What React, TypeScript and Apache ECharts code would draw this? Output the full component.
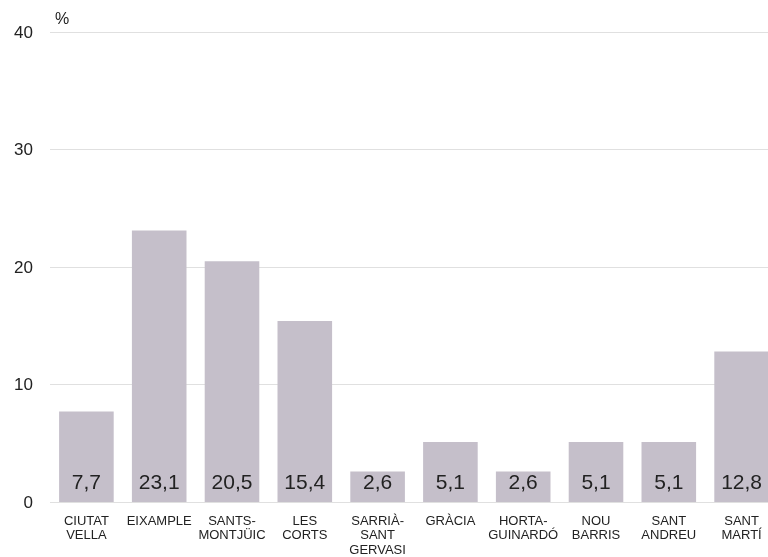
import React, { useEffect, useRef } from "react";
import * as echarts from "echarts";

const categories = [
  "CIUTAT\nVELLA",
  "EIXAMPLE",
  "SANTS-\nMONTJÜIC",
  "LES\nCORTS",
  "SARRIÀ-\nSANT\nGERVASI",
  "GRÀCIA",
  "HORTA-\nGUINARDÓ",
  "NOU\nBARRIS",
  "SANT\nANDREU",
  "SANT\nMARTÍ",
];
const values = [7.7, 23.1, 20.5, 15.4, 2.6, 5.1, 2.6, 5.1, 5.1, 12.8];
const yTicks = { min: 0, max: 40, interval: 10 };

export default function App() {
  const ref = useRef<HTMLDivElement>(null);
  useEffect(() => {
    if (!ref.current) return;
    const chart = echarts.init(ref.current, undefined, { renderer: "svg" });
    const font = "Liberation Sans";
    chart.setOption({
      animation: false,
      textStyle: { fontFamily: font },
      grid: { left: 50, top: 32, width: 728, bottom: 55, outerBoundsMode: "none", containLabel: false },
      graphic: [
        {
          type: "text",
          left: 55,
          top: 10,
          style: { text: "%", fontSize: 16, fill: "#222", fontFamily: font },
        },
      ],
      xAxis: {
        type: "category",
        data: categories,
        axisLine: { show: false },
        axisTick: { show: false },
        axisLabel: {
          interval: 0,
          fontSize: 13,
          lineHeight: 14.5,
          color: "#222",
          margin: 11,
          fontFamily: font,
        },
      },
      yAxis: {
        type: "value",
        min: yTicks.min,
        max: yTicks.max,
        interval: yTicks.interval,
        axisLabel: { fontSize: 17, color: "#222", margin: 17, fontFamily: font },
        splitLine: { lineStyle: { color: "#e0e0e0", width: 1 } },
        axisLine: { show: false },
        axisTick: { show: false },
      },
      series: [
        {
          type: "bar",
          data: values,
          barCategoryGap: "25%",
          itemStyle: { color: "#c5bfca" },
          label: {
            show: true,
            position: "insideBottom",
            distance: 10,
            fontSize: 21,
            color: "#222",
            fontFamily: font,
            formatter: (p: any) => String(p.value).replace(".", ","),
          },
        },
      ],
    });
    return () => chart.dispose();
  }, []);
  return (
    <div
      ref={ref}
      style={{ width: 768, height: 557, position: "fixed", left: 0, top: 0 }}
    />
  );
}
